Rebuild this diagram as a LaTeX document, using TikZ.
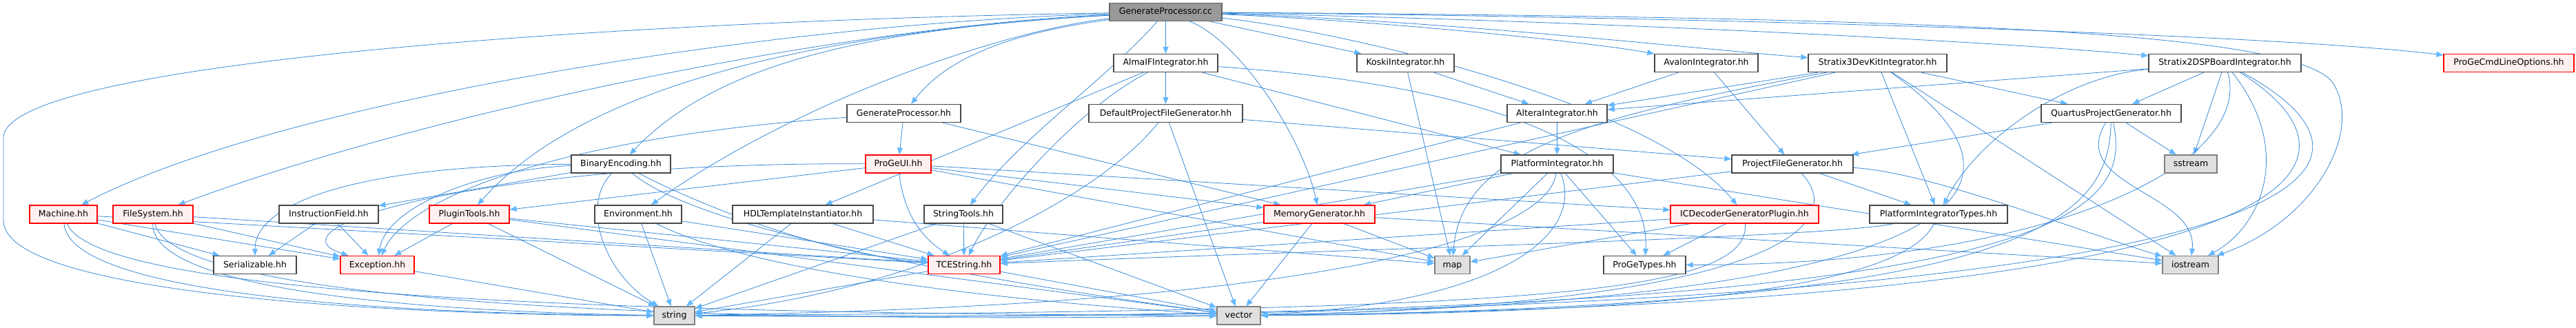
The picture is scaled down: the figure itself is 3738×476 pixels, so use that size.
\documentclass[tikz,border=0pt]{standalone}
\usepackage{fontspec}
\setmainfont{DejaVu Sans}
\usetikzlibrary{arrows.meta}
\definecolor{edgec}{HTML}{3A8AD8}
\definecolor{arrc}{HTML}{63B8FF}
\definecolor{nbord}{HTML}{484848}
\definecolor{rbord}{HTML}{FF0000}
\definecolor{rfill}{HTML}{FFF0F0}
\definecolor{sfill}{HTML}{E0E0E0}
\definecolor{sbord}{HTML}{808080}
\definecolor{ccfill}{HTML}{999999}
\definecolor{ccbord}{HTML}{666666}
\pgfdeclarelayer{bg}
\pgfsetlayers{bg,main}
\begin{document}
\begin{tikzpicture}[x=1pt,y=-1pt,
  nd/.style={draw=nbord, fill=white, line width=1.3pt, minimum height=26pt, inner sep=0pt,
             font=\fontsize{12.5}{14}\selectfont, text height=9.5pt, text depth=2.5pt},
  rd/.style={nd, draw=rbord, fill=rfill},
  sd/.style={nd, draw=sbord, fill=sfill},
  ccd/.style={nd, draw=ccbord, fill=ccfill},
  edg/.style={draw=edgec, line width=0.8pt, -{Triangle[length=10pt,width=8pt,color=arrc]}}
]
\useasboundingbox (0,0) rectangle (3738,476);

% row 0
\node[ccd, minimum width=163pt] (cc) at (1691.5,17.5) {GenerateProcessor.cc};
% row 1
\node[nd, minimum width=151pt] (almaif) at (1691.5,91.5) {AlmaIFIntegrator.hh};
\node[nd, minimum width=141pt] (koski) at (2039.5,91.5) {KoskiIntegrator.hh};
\node[nd, minimum width=150pt] (avalon) at (2476,91.5) {AvalonIntegrator.hh};
\node[nd, minimum width=201pt] (s3) at (2724.5,91.5) {Stratix3DevKitIntegrator.hh};
\node[nd, minimum width=221pt] (s2) at (3228.5,91.5) {Stratix2DSPBoardIntegrator.hh};
\node[rd, minimum width=189pt] (cmdl) at (3640.5,91.5) {ProGeCmdLineOptions.hh};
% row 2
\node[nd, minimum width=165pt] (gph) at (1311.5,164.5) {GenerateProcessor.hh};
\node[nd, minimum width=223pt] (dpfg) at (1691.5,164.5) {DefaultProjectFileGenerator.hh};
\node[nd, minimum width=145pt] (altera) at (2259.5,164.5) {AlteraIntegrator.hh};
\node[nd, minimum width=203pt] (quartus) at (3063.5,164.5) {QuartusProjectGenerator.hh};
% row 3
\node[nd, minimum width=144pt] (binenc) at (901,238) {BinaryEncoding.hh};
\node[rd, minimum width=95pt] (progeui) at (1303.5,238) {ProGeUI.hh};
\node[nd, minimum width=163pt] (platint) at (2259.5,238) {PlatformIntegrator.hh};
\node[nd, minimum width=176pt] (pfg) at (2601,238) {ProjectFileGenerator.hh};
\node[sd, minimum width=76pt] (sstream) at (3179,238) {sstream};
% row 4
\node[rd, minimum width=98pt] (machine) at (92,311) {Machine.hh};
\node[rd, minimum width=116pt] (filesys) at (222,311) {FileSystem.hh};
\node[nd, minimum width=144pt] (instrf) at (477,311) {InstructionField.hh};
\node[rd, minimum width=116pt] (plugin) at (681,311) {PluginTools.hh};
\node[nd, minimum width=126pt] (env) at (926,311) {Environment.hh};
\node[nd, minimum width=204pt] (hdl) at (1165,311) {HDLTemplateInstantiator.hh};
\node[nd, minimum width=114pt] (strtools) at (1398,311) {StringTools.hh};
\node[rd, minimum width=161pt] (memgen) at (1914.5,311) {MemoryGenerator.hh};
\node[rd, minimum width=215pt] (icdec) at (2531.5,311) {ICDecoderGeneratorPlugin.hh};
\node[nd, minimum width=200pt] (pitypes) at (2813,311) {PlatformIntegratorTypes.hh};
% row 5
\node[nd, minimum width=120pt] (serial) at (370,384.5) {Serializable.hh};
\node[rd, minimum width=107pt] (except) at (547.5,384.5) {Exception.hh};
\node[rd, minimum width=104pt] (tcestr) at (1399,384.5) {TCEString.hh};
\node[sd, minimum width=51pt] (map) at (2107.5,384.5) {map};
\node[nd, minimum width=119pt] (progetypes) at (2386.5,384.5) {ProGeTypes.hh};
\node[sd, minimum width=81pt] (iostream) at (3178.5,384.5) {iostream};
% row 6
\node[sd, minimum width=59pt] (string) at (978.5,458) {string};
\node[sd, minimum width=63pt] (vector) at (1797.5,458) {vector};

\begin{pgfonlayer}{bg}
\fill[white] (0,0) rectangle (3738,476);
% GenerateProcessor.cc
\draw[edg] (cc) .. controls (1100,35) and (400,150) .. (machine);
\draw[edg] (cc) .. controls (1200,40) and (600,170) .. (filesys);
\draw[edg] (cc) .. controls (1300,40) and (1050,80) .. (binenc);
\draw[edg] (cc) .. controls (1200,45) and (850,120) .. (plugin);
\draw[edg] (cc) .. controls (1450,45) and (1150,150) .. (env);
\draw[edg] (cc) .. controls (1450,50) and (1370,90) .. (gph);
\draw[edg] (cc) .. controls (1600,120) and (1480,200) .. (strtools);
\draw[edg] (cc) -- (almaif);
\draw[edg] (cc) .. controls (1800,60) and (1890,200) .. (memgen);
\draw[edg] (cc) -- (koski);
\draw[edg] (cc) .. controls (2000,30) and (2300,60) .. (avalon);
\draw[edg] (cc) .. controls (2100,30) and (2450,70) .. (s3);
\draw[edg] (cc) .. controls (2300,30) and (2900,60) .. (s2);
\draw[edg] (cc) .. controls (2500,25) and (3300,50) .. (cmdl);
\draw[edg] (cc) .. controls (1950,45) and (2400,150) .. (icdec);
\draw[edg] (cc) .. controls (900,30) and (5,90) .. (5,200) -- (5,320) .. controls (5,430) and (600,458) .. (string);
\draw[edg] (cc) .. controls (2800,25) and (3330,45) .. (3385,120) .. controls (3430,190) and (3360,320) .. (iostream);
% AlmaIFIntegrator.hh
\draw[edg] (almaif) -- (dpfg);
\draw[edg] (almaif) -- (platint);
\draw[edg] (almaif) .. controls (2250,130) and (2395,250) .. (progetypes);
\draw[edg] (almaif) -- (hdl);
\draw[edg] (almaif) .. controls (1560,160) and (1440,300) .. (tcestr);
% KoskiIntegrator.hh
\draw[edg] (koski) -- (altera);
\draw[edg] (koski) -- (map);
% AvalonIntegrator.hh
\draw[edg] (avalon) -- (altera);
\draw[edg] (avalon) -- (pfg);
% Stratix3DevKitIntegrator.hh
\draw[edg] (s3) -- (altera);
\draw[edg] (s3) -- (quartus);
\draw[edg] (s3) -- (pitypes);
\draw[edg] (s3) -- (iostream);
\draw[edg] (s3) .. controls (2950,250) and (2950,430) .. (vector);
\draw[edg] (s3) -- (tcestr);
\draw[edg] (s3) .. controls (2300,170) and (2120,220) .. (map);
% Stratix2DSPBoardIntegrator.hh
\draw[edg] (s2) -- (altera);
\draw[edg] (s2) -- (quartus);
\draw[edg] (s2) -- (sstream);
\draw[edg] (s2) .. controls (3000,110) and (2870,200) .. (pitypes);
\draw[edg] (s2) .. controls (3330,220) and (3280,330) .. (iostream);
\draw[edg] (s2) .. controls (3270,230) and (3000,384) .. (progetypes);
\draw[edg] (s2) .. controls (3450,230) and (3420,440) .. (vector);
\draw[edg] (s2) .. controls (3520,250) and (3420,475) .. (string);
% GenerateProcessor.hh
\draw[edg] (gph) -- (progeui);
\draw[edg] (gph) -- (memgen);
\draw[edg] (gph) .. controls (800,200) and (590,290) .. (except);
% DefaultProjectFileGenerator.hh
\draw[edg] (dpfg) -- (pfg);
\draw[edg] (dpfg) -- (vector);
\draw[edg] (dpfg) .. controls (1600,280) and (1350,420) .. (string);
% AlteraIntegrator.hh
\draw[edg] (altera) -- (platint);
\draw[edg] (altera) -- (tcestr);
% QuartusProjectGenerator.hh
\draw[edg] (quartus) -- (pfg);
\draw[edg] (quartus) -- (sstream);
\draw[edg] (quartus) .. controls (3000,270) and (3190,280) .. (iostream);
\draw[edg] (quartus) .. controls (3060,320) and (2950,445) .. (vector);
\draw[edg] (quartus) .. controls (3100,330) and (2950,470) .. (string);
% BinaryEncoding.hh
\draw[edg] (binenc) -- (instrf);
\draw[edg] (binenc) .. controls (500,240) and (370,300) .. (serial);
\draw[edg] (binenc) .. controls (840,300) and (880,400) .. (string);
\draw[edg] (binenc) .. controls (1000,320) and (1300,390) .. (vector);
\draw[edg] (binenc) .. controls (1020,300) and (1200,370) .. (tcestr);
\draw[edg] (binenc) .. controls (700,245) and (560,300) .. (except);
% ProGeUI.hh
\draw[edg] (progeui) -- (plugin);
\draw[edg] (progeui) .. controls (700,235) and (380,330) .. (except);
\draw[edg] (progeui) .. controls (1310,300) and (1330,340) .. (tcestr);
\draw[edg] (progeui) -- (memgen);
\draw[edg] (progeui) -- (icdec);
\draw[edg] (progeui) -- (map);
% PlatformIntegrator.hh
\draw[edg] (platint) -- (memgen);
\draw[edg] (platint) -- (map);
\draw[edg] (platint) -- (progetypes);
\draw[edg] (platint) .. controls (2300,340) and (2180,440) .. (vector);
\draw[edg] (platint) .. controls (2250,320) and (2050,440) .. (string);
\draw[edg] (platint) -- (tcestr);
\draw[edg] (platint) -- (iostream);
% ProjectFileGenerator.hh
\draw[edg] (pfg) -- (pitypes);
\draw[edg] (pfg) -- (tcestr);
\draw[edg] (pfg) .. controls (2680,320) and (2600,440) .. (vector);
\draw[edg] (pfg) .. controls (2800,250) and (3000,330) .. (iostream);
% Machine.hh
\draw[edg] (machine) -- (serial);
\draw[edg] (machine) -- (except);
\draw[edg] (machine) -- (tcestr);
\draw[edg] (machine) .. controls (100,420) and (500,455) .. (string);
\draw[edg] (machine) .. controls (140,430) and (900,455) .. (vector);
% FileSystem.hh
\draw[edg] (filesys) -- (except);
\draw[edg] (filesys) -- (tcestr);
\draw[edg] (filesys) .. controls (220,420) and (600,452) .. (string);
\draw[edg] (filesys) .. controls (250,440) and (1000,470) .. (vector);
% InstructionField.hh
\draw[edg] (instrf) -- (serial);
\draw[edg] (instrf) -- (except);
% PluginTools.hh
\draw[edg] (plugin) -- (except);
\draw[edg] (plugin) -- (string);
\draw[edg] (plugin) -- (tcestr);
\draw[edg] (plugin) -- (vector);
% Environment.hh
\draw[edg] (env) -- (string);
\draw[edg] (env) -- (tcestr);
\draw[edg] (env) .. controls (1100,400) and (1500,440) .. (vector);
% HDLTemplateInstantiator.hh
\draw[edg] (hdl) -- (string);
\draw[edg] (hdl) -- (tcestr);
\draw[edg] (hdl) -- (map);
% StringTools.hh
\draw[edg] (strtools) -- (tcestr);
\draw[edg] (strtools) -- (string);
\draw[edg] (strtools) -- (vector);
% MemoryGenerator.hh
\draw[edg] (memgen) -- (map);
\draw[edg] (memgen) -- (vector);
\draw[edg] (memgen) -- (tcestr);
\draw[edg] (memgen) -- (iostream);
% ICDecoderGeneratorPlugin.hh
\draw[edg] (icdec) -- (progetypes);
\draw[edg] (icdec) -- (tcestr);
\draw[edg] (icdec) .. controls (2540,430) and (2200,450) .. (string);
\draw[edg] (icdec) -- (map);
% PlatformIntegratorTypes.hh
\draw[edg] (pitypes) .. controls (2650,345) and (2000,360) .. (tcestr);
\draw[edg] (pitypes) .. controls (2760,420) and (2400,455) .. (vector);
% Exception.hh, TCEString.hh
\draw[edg] (except) -- (string);
\draw[edg] (tcestr) -- (string);
\draw[edg] (tcestr) -- (vector);
\end{pgfonlayer}
\end{tikzpicture}
\end{document}
